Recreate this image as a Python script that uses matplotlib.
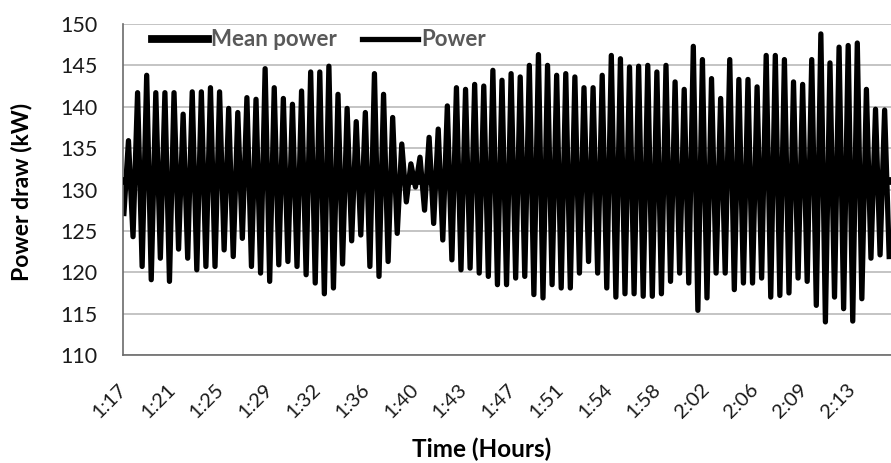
import numpy as np
import matplotlib
matplotlib.use("Agg")
import matplotlib.pyplot as plt
from matplotlib.transforms import ScaledTranslation, blended_transform_factory

# Peak and trough values of the power signal (kW), in time order
peaks = [
    135.9, 141.7, 143.8, 141.7, 141.7, 141.7, 139.1, 141.8, 141.8, 142.3,
    141.8, 139.8, 139.3, 141.1, 140.9, 144.6, 142.3, 141.0, 140.3, 141.9,
    144.2, 144.2, 144.9, 141.5, 139.8, 138.2, 139.3, 144.0, 141.5, 138.7,
    135.5, 133.1, 133.9, 136.3, 137.3, 140.1, 142.3, 142.1, 142.7, 142.5,
    144.4, 143.2, 144.0, 143.6, 145.0, 146.3, 145.0, 143.8, 144.0, 143.6,
    142.3, 142.3, 143.8, 146.2, 145.8, 144.8, 144.9, 145.0, 144.2, 145.0,
    143.0, 142.1, 147.3, 145.7, 143.4, 141.0, 145.7, 143.3, 143.3, 142.4,
    146.2, 146.2, 145.7, 143.0, 142.7, 145.7, 148.8, 145.3, 147.2, 147.4,
    147.7, 142.1, 139.7, 139.6,
]
troughs = [
    127.1, 124.3, 120.7, 119.1, 121.7, 118.9, 122.8, 121.7, 120.3, 120.7,
    120.7, 122.7, 121.9, 124.1, 120.7, 119.9, 118.9, 120.9, 121.3, 120.7,
    119.7, 118.7, 117.4, 118.1, 121.0, 123.8, 124.5, 120.7, 119.5, 121.3,
    124.7, 128.5, 130.3, 127.5, 125.9, 123.9, 121.5, 120.3, 120.5, 119.9,
    119.5, 118.5, 118.5, 119.3, 119.5, 117.3, 116.9, 118.5, 118.1, 118.1,
    119.9, 121.3, 119.9, 118.1, 117.0, 117.4, 117.4, 117.1, 117.1, 117.4,
    118.9, 119.9, 118.7, 115.4, 116.9, 119.9, 119.9, 117.9, 118.7, 118.7,
    119.3, 117.0, 117.2, 117.5, 119.3, 118.9, 116.0, 114.0, 117.0, 115.6,
    114.1, 116.8, 121.7, 122.1, 121.9,
]
mean_power = 131.0
tick_labels = ["1:17", "1:21", "1:25", "1:29", "1:32", "1:36", "1:40", "1:43",
               "1:47", "1:51", "1:54", "1:58", "2:02", "2:06", "2:09", "2:13"]

# interleave trough, peak, trough, ... into one series
power = [troughs[0]]
for p, t in zip(peaks, troughs[1:]):
    power += [p, t]
power = np.array(power)
x = np.arange(len(power))

FONT = "Lato"
plt.rcParams["font.family"] = [FONT, "DejaVu Sans"]

fig = plt.figure(figsize=(8.91, 4.63), dpi=100)
ax = fig.add_axes([123 / 891, 108 / 463, 768 / 891, 331 / 463])

ax.plot(x, np.full(len(x), mean_power), color="black", lw=5.6, label="Mean power", zorder=3)
ax.plot(x, power, color="black", lw=3.8, solid_joinstyle="round", label="Power", zorder=2)

ax.set_xlim(-0.2, len(x) - 1 + 0.4)
ax.set_ylim(110, 150)
ax.set_yticks(np.arange(110, 151, 5))

# category-style time labels, rotated like Excel; drawn as texts so they can be nudged
tick_pos = np.linspace(1.3, 161.3, len(tick_labels))
ax.set_xticks([])
trans = blended_transform_factory(ax.transData, ax.transAxes) + \
    ScaledTranslation(-12 / 100, -26 / 100, fig.dpi_scale_trans)
for pos, lab in zip(tick_pos, tick_labels):
    ax.text(pos, 0, lab, transform=trans, rotation=45, ha="right", va="top",
            rotation_mode="anchor", fontsize=14.5, color="#1a1a1a", clip_on=False)

ax.grid(axis="y", color="#c4c4c4", lw=1.4)
ax.set_axisbelow(True)
for s in ("top", "right"):
    ax.spines[s].set_visible(False)
for s in ("left", "bottom"):
    ax.spines[s].set_color("#6b6b6b")
    ax.spines[s].set_linewidth(1.2)
ax.tick_params(axis="y", length=0, pad=18.5, labelsize=15.5, labelcolor="#1a1a1a")

fig.text(22 / 891, 1 - 192 / 463, "Power draw (kW)", rotation=90, ha="center", va="center",
         fontsize=16.5, fontweight="bold")
fig.text(482 / 891, 1 - 449 / 463, "Time (Hours)", ha="center", va="center",
         fontsize=17.5, fontweight="bold")

leg = ax.legend(loc="center left", bbox_to_anchor=((152 - 123) / 768, 1 - 16 / 331), ncol=2,
                frameon=False, borderpad=0, borderaxespad=0, handlelength=2.5,
                handletextpad=0.15, columnspacing=1.15, fontsize=16)
for t in leg.get_texts():
    t.set_color("#595959")
    t.set_fontweight("bold")

fig.savefig("out.png", dpi=100, facecolor="white")
